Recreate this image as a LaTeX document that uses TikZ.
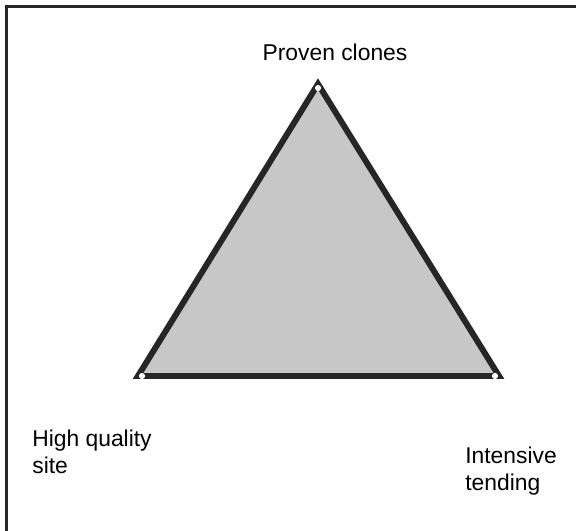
\documentclass[tikz,border=0pt]{standalone}
\usepackage{fontspec}
\setmainfont{Liberation Sans}

\tikzset{
  frame/.style={line width=1.4pt, draw=black!85},
  tri/.style={line width=3.4pt, draw=black!85, fill=black!22, line join=miter},
  corner/.style={circle, fill=white, inner sep=0pt, minimum size=3.5pt},
  lbl/.style={font=\fontsize{13}{15}\selectfont, align=left, inner sep=0pt}
}

\begin{document}
\begin{tikzpicture}[x=0.02cm, y=-0.02cm]

\useasboundingbox (0,0) rectangle (576,531);

% frame (top and left only)
\draw [frame]  (6.5,531) -- (6.5,6.5) -- (576,6.5);

% triangle
\coordinate (apex) at (318,84);
\coordinate (bl) at (138,376);
\coordinate (br) at (499,376);
\draw [tri]  (apex) -- (bl) -- (br) -- cycle;

\node [corner] (capex) at (318,88) {};
\node [corner] (cbl) at (142,376) {};
\node [corner] (cbr) at (495,376) {};

% labels
\node [lbl, anchor=base] (clones) at (335,60) {Proven clones};
\node [lbl, anchor=west] (site) at (32,452) {High quality\\site};
\node [lbl, anchor=west] (tending) at (465,471) {Intensive\\tending};

\end{tikzpicture}
\end{document}
